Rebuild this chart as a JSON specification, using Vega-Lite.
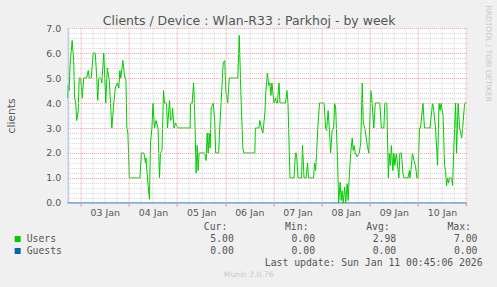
{
 "$schema": "https://vega.github.io/schema/vega-lite/v6.json",
 "background": "#f0f0f0",
 "padding": {"left": 5.65, "top": 5, "right": 10, "bottom": 10},
 "bounds": "flush",
 "spacing": 24,
 "config": {"view": {"stroke": null}, "font": "DejaVu Sans"},
 "datasets": {
  "users": [
   {"t":"2026-01-02T17:30:00Z","v":4.2},{"t":"2026-01-02T17:45:00Z","v":4.7},{"t":"2026-01-02T18:15:00Z","v":4.5},{"t":"2026-01-02T18:45:00Z","v":5.6},{"t":"2026-01-02T19:45:00Z","v":6.5},{"t":"2026-01-02T20:30:00Z","v":5.7},{"t":"2026-01-02T21:00:00Z","v":4.2},{"t":"2026-01-02T21:30:00Z","v":4.0},{"t":"2026-01-02T22:00:00Z","v":3.3},{"t":"2026-01-02T22:45:00Z","v":3.7},{"t":"2026-01-02T23:15:00Z","v":5.0},
   {"t":"2026-01-03T00:00:00Z","v":5.0},{"t":"2026-01-03T00:45:00Z","v":4.2},{"t":"2026-01-03T01:30:00Z","v":5.0},{"t":"2026-01-03T03:00:00Z","v":5.0},{"t":"2026-01-03T03:45:00Z","v":5.3},{"t":"2026-01-03T04:15:00Z","v":5.0},{"t":"2026-01-03T05:15:00Z","v":5.0},{"t":"2026-01-03T06:15:00Z","v":6.0},{"t":"2026-01-03T07:15:00Z","v":6.0},{"t":"2026-01-03T08:00:00Z","v":5.0},{"t":"2026-01-03T08:30:00Z","v":4.1},{"t":"2026-01-03T09:00:00Z","v":5.0},{"t":"2026-01-03T10:00:00Z","v":5.0},{"t":"2026-01-03T10:30:00Z","v":4.8},{"t":"2026-01-03T11:30:00Z","v":6.0},{"t":"2026-01-03T12:30:00Z","v":4.0},{"t":"2026-01-03T13:15:00Z","v":5.4},{"t":"2026-01-03T14:15:00Z","v":4.9},{"t":"2026-01-03T15:30:00Z","v":3.0},{"t":"2026-01-03T16:30:00Z","v":4.0},{"t":"2026-01-03T17:15:00Z","v":4.6},{"t":"2026-01-03T18:15:00Z","v":4.8},{"t":"2026-01-03T19:00:00Z","v":4.6},{"t":"2026-01-03T19:30:00Z","v":5.3},{"t":"2026-01-03T20:00:00Z","v":5.0},{"t":"2026-01-03T21:00:00Z","v":5.7},{"t":"2026-01-03T22:00:00Z","v":5.0},{"t":"2026-01-03T22:30:00Z","v":5.0},{"t":"2026-01-03T23:00:00Z","v":3.0},{"t":"2026-01-03T23:30:00Z","v":2.8},
   {"t":"2026-01-04T00:15:00Z","v":1.0},{"t":"2026-01-04T05:30:00Z","v":1.0},{"t":"2026-01-04T06:15:00Z","v":2.0},{"t":"2026-01-04T07:30:00Z","v":2.0},{"t":"2026-01-04T08:15:00Z","v":1.6},{"t":"2026-01-04T08:30:00Z","v":1.8},{"t":"2026-01-04T09:15:00Z","v":1.0},{"t":"2026-01-04T10:15:00Z","v":0.15},{"t":"2026-01-04T10:45:00Z","v":2.4},{"t":"2026-01-04T11:30:00Z","v":3.0},{"t":"2026-01-04T12:00:00Z","v":4.0},{"t":"2026-01-04T12:45:00Z","v":3.0},{"t":"2026-01-04T13:30:00Z","v":3.3},{"t":"2026-01-04T14:30:00Z","v":3.0},{"t":"2026-01-04T15:15:00Z","v":1.0},{"t":"2026-01-04T15:45:00Z","v":2.0},{"t":"2026-01-04T16:30:00Z","v":2.1},{"t":"2026-01-04T17:15:00Z","v":4.5},{"t":"2026-01-04T17:45:00Z","v":4.0},{"t":"2026-01-04T18:45:00Z","v":4.0},{"t":"2026-01-04T19:15:00Z","v":3.0},{"t":"2026-01-04T20:15:00Z","v":4.1},{"t":"2026-01-04T20:45:00Z","v":3.3},{"t":"2026-01-04T21:30:00Z","v":3.4},{"t":"2026-01-04T21:45:00Z","v":3.8},{"t":"2026-01-04T22:30:00Z","v":3.0},{"t":"2026-01-04T23:15:00Z","v":3.2},{"t":"2026-01-04T23:45:00Z","v":3.1},
   {"t":"2026-01-05T00:30:00Z","v":3.0},{"t":"2026-01-05T06:30:00Z","v":3.0},{"t":"2026-01-05T06:45:00Z","v":4.0},{"t":"2026-01-05T07:30:00Z","v":4.0},{"t":"2026-01-05T08:15:00Z","v":4.8},{"t":"2026-01-05T08:45:00Z","v":3.7},{"t":"2026-01-05T09:30:00Z","v":1.2},{"t":"2026-01-05T10:00:00Z","v":2.3},{"t":"2026-01-05T10:30:00Z","v":1.3},{"t":"2026-01-05T11:00:00Z","v":2.0},{"t":"2026-01-05T13:45:00Z","v":2.0},{"t":"2026-01-05T14:30:00Z","v":1.7},{"t":"2026-01-05T15:00:00Z","v":2.8},{"t":"2026-01-05T15:30:00Z","v":2.0},{"t":"2026-01-05T16:00:00Z","v":2.8},{"t":"2026-01-05T16:30:00Z","v":2.2},{"t":"2026-01-05T17:00:00Z","v":3.8},{"t":"2026-01-05T18:00:00Z","v":4.0},{"t":"2026-01-05T18:45:00Z","v":3.3},{"t":"2026-01-05T19:15:00Z","v":2.0},{"t":"2026-01-05T20:45:00Z","v":2.0},{"t":"2026-01-05T21:15:00Z","v":3.0},{"t":"2026-01-05T22:15:00Z","v":4.5},{"t":"2026-01-05T23:00:00Z","v":5.6},{"t":"2026-01-05T23:45:00Z","v":5.7},
   {"t":"2026-01-06T00:15:00Z","v":4.5},{"t":"2026-01-06T01:15:00Z","v":4.0},{"t":"2026-01-06T02:00:00Z","v":5.0},{"t":"2026-01-06T06:15:00Z","v":5.0},{"t":"2026-01-06T07:00:00Z","v":6.7},{"t":"2026-01-06T07:45:00Z","v":4.5},{"t":"2026-01-06T08:45:00Z","v":2.2},{"t":"2026-01-06T09:15:00Z","v":2.0},{"t":"2026-01-06T14:45:00Z","v":2.0},{"t":"2026-01-06T15:00:00Z","v":3.0},{"t":"2026-01-06T16:45:00Z","v":3.0},{"t":"2026-01-06T17:15:00Z","v":3.3},{"t":"2026-01-06T18:00:00Z","v":3.0},{"t":"2026-01-06T18:45:00Z","v":2.8},{"t":"2026-01-06T19:15:00Z","v":3.2},{"t":"2026-01-06T19:45:00Z","v":3.6},{"t":"2026-01-06T20:15:00Z","v":4.5},{"t":"2026-01-06T21:00:00Z","v":5.2},{"t":"2026-01-06T21:45:00Z","v":4.7},{"t":"2026-01-06T22:15:00Z","v":4.8},{"t":"2026-01-06T22:45:00Z","v":4.3},{"t":"2026-01-06T23:15:00Z","v":4.8},
   {"t":"2026-01-07T00:00:00Z","v":4.2},{"t":"2026-01-07T00:15:00Z","v":4.0},{"t":"2026-01-07T01:00:00Z","v":4.2},{"t":"2026-01-07T01:30:00Z","v":4.0},{"t":"2026-01-07T02:00:00Z","v":4.0},{"t":"2026-01-07T02:45:00Z","v":4.8},{"t":"2026-01-07T03:00:00Z","v":4.5},{"t":"2026-01-07T03:15:00Z","v":4.0},{"t":"2026-01-07T06:00:00Z","v":4.0},{"t":"2026-01-07T06:45:00Z","v":4.5},{"t":"2026-01-07T07:15:00Z","v":4.0},{"t":"2026-01-07T08:15:00Z","v":1.0},{"t":"2026-01-07T10:15:00Z","v":1.0},{"t":"2026-01-07T11:00:00Z","v":2.0},{"t":"2026-01-07T11:30:00Z","v":2.0},{"t":"2026-01-07T12:15:00Z","v":1.0},{"t":"2026-01-07T14:00:00Z","v":1.0},{"t":"2026-01-07T14:30:00Z","v":2.3},{"t":"2026-01-07T15:15:00Z","v":1.0},{"t":"2026-01-07T16:15:00Z","v":1.0},{"t":"2026-01-07T17:00:00Z","v":1.6},{"t":"2026-01-07T17:30:00Z","v":1.0},{"t":"2026-01-07T20:00:00Z","v":1.0},{"t":"2026-01-07T20:30:00Z","v":1.6},{"t":"2026-01-07T21:00:00Z","v":1.3},{"t":"2026-01-07T21:30:00Z","v":2.0},{"t":"2026-01-07T22:15:00Z","v":3.2},{"t":"2026-01-07T23:00:00Z","v":4.0},
   {"t":"2026-01-08T01:15:00Z","v":4.0},{"t":"2026-01-08T02:00:00Z","v":3.0},{"t":"2026-01-08T02:30:00Z","v":2.9},{"t":"2026-01-08T03:15:00Z","v":3.7},{"t":"2026-01-08T04:00:00Z","v":2.8},{"t":"2026-01-08T04:30:00Z","v":2.0},{"t":"2026-01-08T05:15:00Z","v":2.9},{"t":"2026-01-08T06:00:00Z","v":3.0},{"t":"2026-01-08T06:30:00Z","v":4.0},{"t":"2026-01-08T07:00:00Z","v":3.8},{"t":"2026-01-08T08:00:00Z","v":1.6},{"t":"2026-01-08T08:30:00Z","v":0.0},{"t":"2026-01-08T09:15:00Z","v":0.84},{"t":"2026-01-08T09:45:00Z","v":0.1},{"t":"2026-01-08T10:15:00Z","v":0.5},{"t":"2026-01-08T10:45:00Z","v":0.0},{"t":"2026-01-08T11:30:00Z","v":0.64},{"t":"2026-01-08T12:00:00Z","v":0.0},{"t":"2026-01-08T12:45:00Z","v":0.77},{"t":"2026-01-08T13:15:00Z","v":0.1},{"t":"2026-01-08T13:45:00Z","v":1.0},{"t":"2026-01-08T14:30:00Z","v":2.0},{"t":"2026-01-08T15:15:00Z","v":2.6},{"t":"2026-01-08T15:45:00Z","v":2.1},{"t":"2026-01-08T16:15:00Z","v":2.3},{"t":"2026-01-08T16:45:00Z","v":2.0},{"t":"2026-01-08T17:45:00Z","v":1.85},{"t":"2026-01-08T18:45:00Z","v":2.0},{"t":"2026-01-08T19:30:00Z","v":2.4},{"t":"2026-01-08T20:15:00Z","v":4.8},{"t":"2026-01-08T20:45:00Z","v":3.2},{"t":"2026-01-08T21:30:00Z","v":3.0},{"t":"2026-01-08T22:15:00Z","v":2.6},{"t":"2026-01-08T22:45:00Z","v":2.3},{"t":"2026-01-08T23:30:00Z","v":2.0},
   {"t":"2026-01-09T00:30:00Z","v":4.5},{"t":"2026-01-09T01:00:00Z","v":4.2},{"t":"2026-01-09T02:00:00Z","v":3.0},{"t":"2026-01-09T02:45:00Z","v":4.0},{"t":"2026-01-09T05:00:00Z","v":4.0},{"t":"2026-01-09T05:45:00Z","v":3.0},{"t":"2026-01-09T07:00:00Z","v":3.0},{"t":"2026-01-09T07:30:00Z","v":4.0},{"t":"2026-01-09T08:30:00Z","v":4.0},{"t":"2026-01-09T09:15:00Z","v":1.0},{"t":"2026-01-09T09:45:00Z","v":2.0},{"t":"2026-01-09T10:15:00Z","v":1.5},{"t":"2026-01-09T10:45:00Z","v":2.3},{"t":"2026-01-09T11:30:00Z","v":1.3},{"t":"2026-01-09T12:00:00Z","v":2.0},{"t":"2026-01-09T12:30:00Z","v":1.5},{"t":"2026-01-09T13:15:00Z","v":2.0},{"t":"2026-01-09T14:30:00Z","v":1.0},{"t":"2026-01-09T15:00:00Z","v":2.0},{"t":"2026-01-09T15:45:00Z","v":2.0},{"t":"2026-01-09T16:30:00Z","v":1.2},{"t":"2026-01-09T17:00:00Z","v":1.0},{"t":"2026-01-09T19:00:00Z","v":1.0},{"t":"2026-01-09T19:45:00Z","v":1.3},{"t":"2026-01-09T20:00:00Z","v":1.0},{"t":"2026-01-09T20:30:00Z","v":1.3},{"t":"2026-01-09T21:15:00Z","v":2.0},{"t":"2026-01-09T22:00:00Z","v":1.7},{"t":"2026-01-09T22:45:00Z","v":1.5},{"t":"2026-01-09T23:30:00Z","v":1.0},
   {"t":"2026-01-10T00:00:00Z","v":1.0},{"t":"2026-01-10T00:45:00Z","v":3.0},{"t":"2026-01-10T01:15:00Z","v":3.0},{"t":"2026-01-10T02:30:00Z","v":4.0},{"t":"2026-01-10T03:15:00Z","v":3.0},{"t":"2026-01-10T06:00:00Z","v":3.0},{"t":"2026-01-10T07:15:00Z","v":4.0},{"t":"2026-01-10T07:45:00Z","v":3.8},{"t":"2026-01-10T08:45:00Z","v":3.0},{"t":"2026-01-10T09:45:00Z","v":1.5},{"t":"2026-01-10T10:30:00Z","v":4.0},{"t":"2026-01-10T11:00:00Z","v":3.7},{"t":"2026-01-10T11:30:00Z","v":4.0},{"t":"2026-01-10T12:30:00Z","v":3.5},{"t":"2026-01-10T13:15:00Z","v":1.5},{"t":"2026-01-10T13:45:00Z","v":1.3},{"t":"2026-01-10T14:15:00Z","v":0.7},{"t":"2026-01-10T14:45:00Z","v":1.0},{"t":"2026-01-10T15:15:00Z","v":0.8},{"t":"2026-01-10T15:45:00Z","v":1.0},{"t":"2026-01-10T16:45:00Z","v":1.0},{"t":"2026-01-10T17:15:00Z","v":0.7},{"t":"2026-01-10T18:00:00Z","v":2.5},{"t":"2026-01-10T18:45:00Z","v":4.0},{"t":"2026-01-10T19:15:00Z","v":2.0},{"t":"2026-01-10T20:00:00Z","v":4.0},{"t":"2026-01-10T20:45:00Z","v":3.0},{"t":"2026-01-10T21:45:00Z","v":2.6},{"t":"2026-01-10T22:15:00Z","v":3.0},{"t":"2026-01-10T23:15:00Z","v":4.0},
   {"t":"2026-01-11T00:15:00Z","v":4.0}
  ],
  "guests": [
   {"t":"2026-01-02T17:30:00Z","v":0},{"t":"2026-01-11T00:15:00Z","v":0}
  ],
  "legend": [
   {"kind":"head","row":"head","col":"Cur","text":"Cur:"},
   {"kind":"head","row":"head","col":"Min","text":"Min:"},
   {"kind":"head","row":"head","col":"Avg","text":"Avg:"},
   {"kind":"head","row":"head","col":"Max","text":"Max:"},
   {"kind":"name","row":"Users","col":"label","text":"Users"},
   {"kind":"name","row":"Guests","col":"label","text":"Guests"},
   {"kind":"value","row":"Users","col":"Cur","text":"5.00"},
   {"kind":"value","row":"Users","col":"Min","text":"0.00"},
   {"kind":"value","row":"Users","col":"Avg","text":"2.98"},
   {"kind":"value","row":"Users","col":"Max","text":"7.00"},
   {"kind":"value","row":"Guests","col":"Cur","text":"0.00"},
   {"kind":"value","row":"Guests","col":"Min","text":"0.00"},
   {"kind":"value","row":"Guests","col":"Avg","text":"0.00"},
   {"kind":"value","row":"Guests","col":"Max","text":"0.00"},
   {"kind":"update","row":"update","col":"Max","text":"Last update: Sun Jan 11 00:45:06 2026"},
   {"kind":"munin","row":"munin","col":"Cur","text":"Munin 2.0.76"}
  ]
 },
 "vconcat": [
  {
   "width": 399,
   "height": 175,
   "view": {"fill": "#ffffff", "stroke": null},
   "layer": [
    {
     "data": {"name": "guests"},
     "mark": {"type": "line", "color": "#0066b3", "strokeWidth": 1},
     "encoding": {
      "x": {"field": "t", "type": "temporal",
       "scale": {"type": "utc", "domain": [1767375000000, 1768090500000]},
       "axis": {"orient": "top",
        "values": [1767376800000,1767420000000,1767441600000,1767463200000,1767506400000,1767528000000,1767549600000,1767592800000,1767614400000,1767636000000,1767679200000,1767700800000,1767722400000,1767765600000,1767787200000,1767808800000,1767852000000,1767873600000,1767895200000,1767938400000,1767960000000,1767981600000,1768024800000,1768046400000,1768068000000],
        "grid": true, "gridColor": "#d4d4d4", "gridDash": [1, 1], "gridWidth": 1,
        "ticks": false, "labels": false, "domain": false,
        "title": "Clients / Device : Wlan-R33 : Parkhoj - by week",
        "titleFont": "DejaVu Sans", "titleFontSize": 12.5, "titleFontWeight": "normal", "titleColor": "#555555",
        "titleX": 181, "titleY": -4, "titleAlign": "center", "titleBaseline": "alphabetic"}},
      "y": {"field": "v", "type": "quantitative",
       "scale": {"domain": [0, 7], "nice": false},
       "axis": {"orient": "right",
        "values": [0.2,0.4,0.6,0.8,1.2,1.4,1.6,1.8,2.2,2.4,2.6,2.8,3.2,3.4,3.6,3.8,4.2,4.4,4.6,4.8,5.2,5.4,5.6,5.8,6.2,6.4,6.6,6.8],
        "grid": true, "gridColor": "#d4d4d4", "gridDash": [1, 1], "gridWidth": 1,
        "ticks": false, "labels": false, "domain": false,
        "title": "RRDTOOL / TOBI OETIKER",
        "titleFont": "DejaVu Sans", "titleFontSize": 7.5, "titleFontWeight": "normal", "titleColor": "#c8c8c8",
        "titleAngle": 90, "titleX": 21, "titleY": -23, "titleAlign": "left", "titleBaseline": "middle"}}
     }
    },
    {
     "data": {"name": "users"},
     "mark": {"type": "line", "color": "#00cc00", "strokeWidth": 1},
     "encoding": {
      "x": {"field": "t", "type": "temporal",
       "scale": {"type": "utc", "domain": [1767375000000, 1768090500000]},
       "axis": {
        "values": [1767398400000,1767484800000,1767571200000,1767657600000,1767744000000,1767830400000,1767916800000,1768003200000,1768089600000],
        "grid": true, "gridColor": "#f2a0a0", "gridDash": [1, 1], "gridWidth": 1,
        "ticks": true, "tickColor": "#f08080", "tickSize": 3,
        "domain": true, "domainColor": "#a9b7ea", "domainWidth": 1,
        "labelExpr": "datum.value >= 1768089600000 ? '' : utcFormat(datum.value, '%d %b')",
        "labelOffset": 24.1, "labelFlush": false, "labelOverlap": false, "labelBound": false,
        "labelFont": "DejaVu Sans", "labelFontSize": 9.4, "labelColor": "#555555", "labelPadding": 3,
        "title": null, "zindex": 1}},
      "y": {"field": "v", "type": "quantitative",
       "scale": {"domain": [0, 7], "nice": false},
       "axis": {
        "values": [0,1,2,3,4,5,6,7], "format": ".1f",
        "grid": true, "gridColor": "#f2a0a0", "gridDash": [1, 1], "gridWidth": 1,
        "ticks": false, "domain": true, "domainColor": "#a9b7ea", "domainWidth": 1,
        "labelFont": "DejaVu Sans", "labelFontSize": 9.4, "labelColor": "#555555", "labelPadding": 7,
        "title": "clients", "titleFont": "DejaVu Sans", "titleFontSize": 10.7, "titleFontWeight": "normal", "titleColor": "#555555",
        "titleX": -56, "titleY": 87.5, "titleAngle": 270, "titleAlign": "center", "titleBaseline": "middle", "zindex": 1}}
     }
    }
   ],
   "resolve": {"axis": {"x": "independent", "y": "independent"}}
  },
  {
   "width": 406,
   "height": 48,
   "view": {"stroke": null},
   "data": {"name": "legend"},
   "encoding": {
    "x": {"field": "col", "type": "nominal", "scale": {"type": "point", "domain": ["label", "gap", "Cur", "Min", "Avg", "Max"], "padding": 0}, "axis": null},
    "y": {"field": "row", "type": "nominal", "scale": {"type": "point", "domain": ["head", "Users", "Guests", "update", "munin"], "padding": 0}, "axis": null}
   },
   "layer": [
    {"transform": [{"filter": "datum.kind == 'name'"}],
     "mark": {"type": "point", "shape": "square", "filled": true, "size": 36, "xOffset": -50, "opacity": 1},
     "encoding": {"color": {"field": "text", "type": "nominal", "scale": {"domain": ["Users", "Guests"], "range": ["#00cc00", "#0066b3"]}, "legend": null}}},
    {"transform": [{"filter": "datum.kind == 'name'"}],
     "mark": {"type": "text", "align": "left", "baseline": "middle", "dx": -41, "font": "DejaVu Sans Mono", "fontSize": 9.8, "color": "#555555"},
     "encoding": {"text": {"field": "text"}}},
    {"transform": [{"filter": "datum.kind == 'head'"}],
     "mark": {"type": "text", "align": "right", "baseline": "middle", "dx": -2.7, "font": "DejaVu Sans Mono", "fontSize": 9.8, "color": "#555555"},
     "encoding": {"text": {"field": "text"}}},
    {"transform": [{"filter": "datum.kind == 'value'"}],
     "mark": {"type": "text", "align": "right", "baseline": "middle", "dx": 3.8, "font": "DejaVu Sans Mono", "fontSize": 9.8, "color": "#555555"},
     "encoding": {"text": {"field": "text"}}},
    {"transform": [{"filter": "datum.kind == 'update'"}],
     "mark": {"type": "text", "align": "right", "baseline": "middle", "dx": 9, "font": "DejaVu Sans Mono", "fontSize": 9.8, "color": "#555555"},
     "encoding": {"text": {"field": "text"}}},
    {"transform": [{"filter": "datum.kind == 'munin'"}],
     "mark": {"type": "text", "align": "center", "baseline": "middle", "dx": 18.6, "font": "DejaVu Sans", "fontSize": 7.6, "color": "#c8c8c8"},
     "encoding": {"text": {"field": "text"}}}
   ]
  }
 ]
}
